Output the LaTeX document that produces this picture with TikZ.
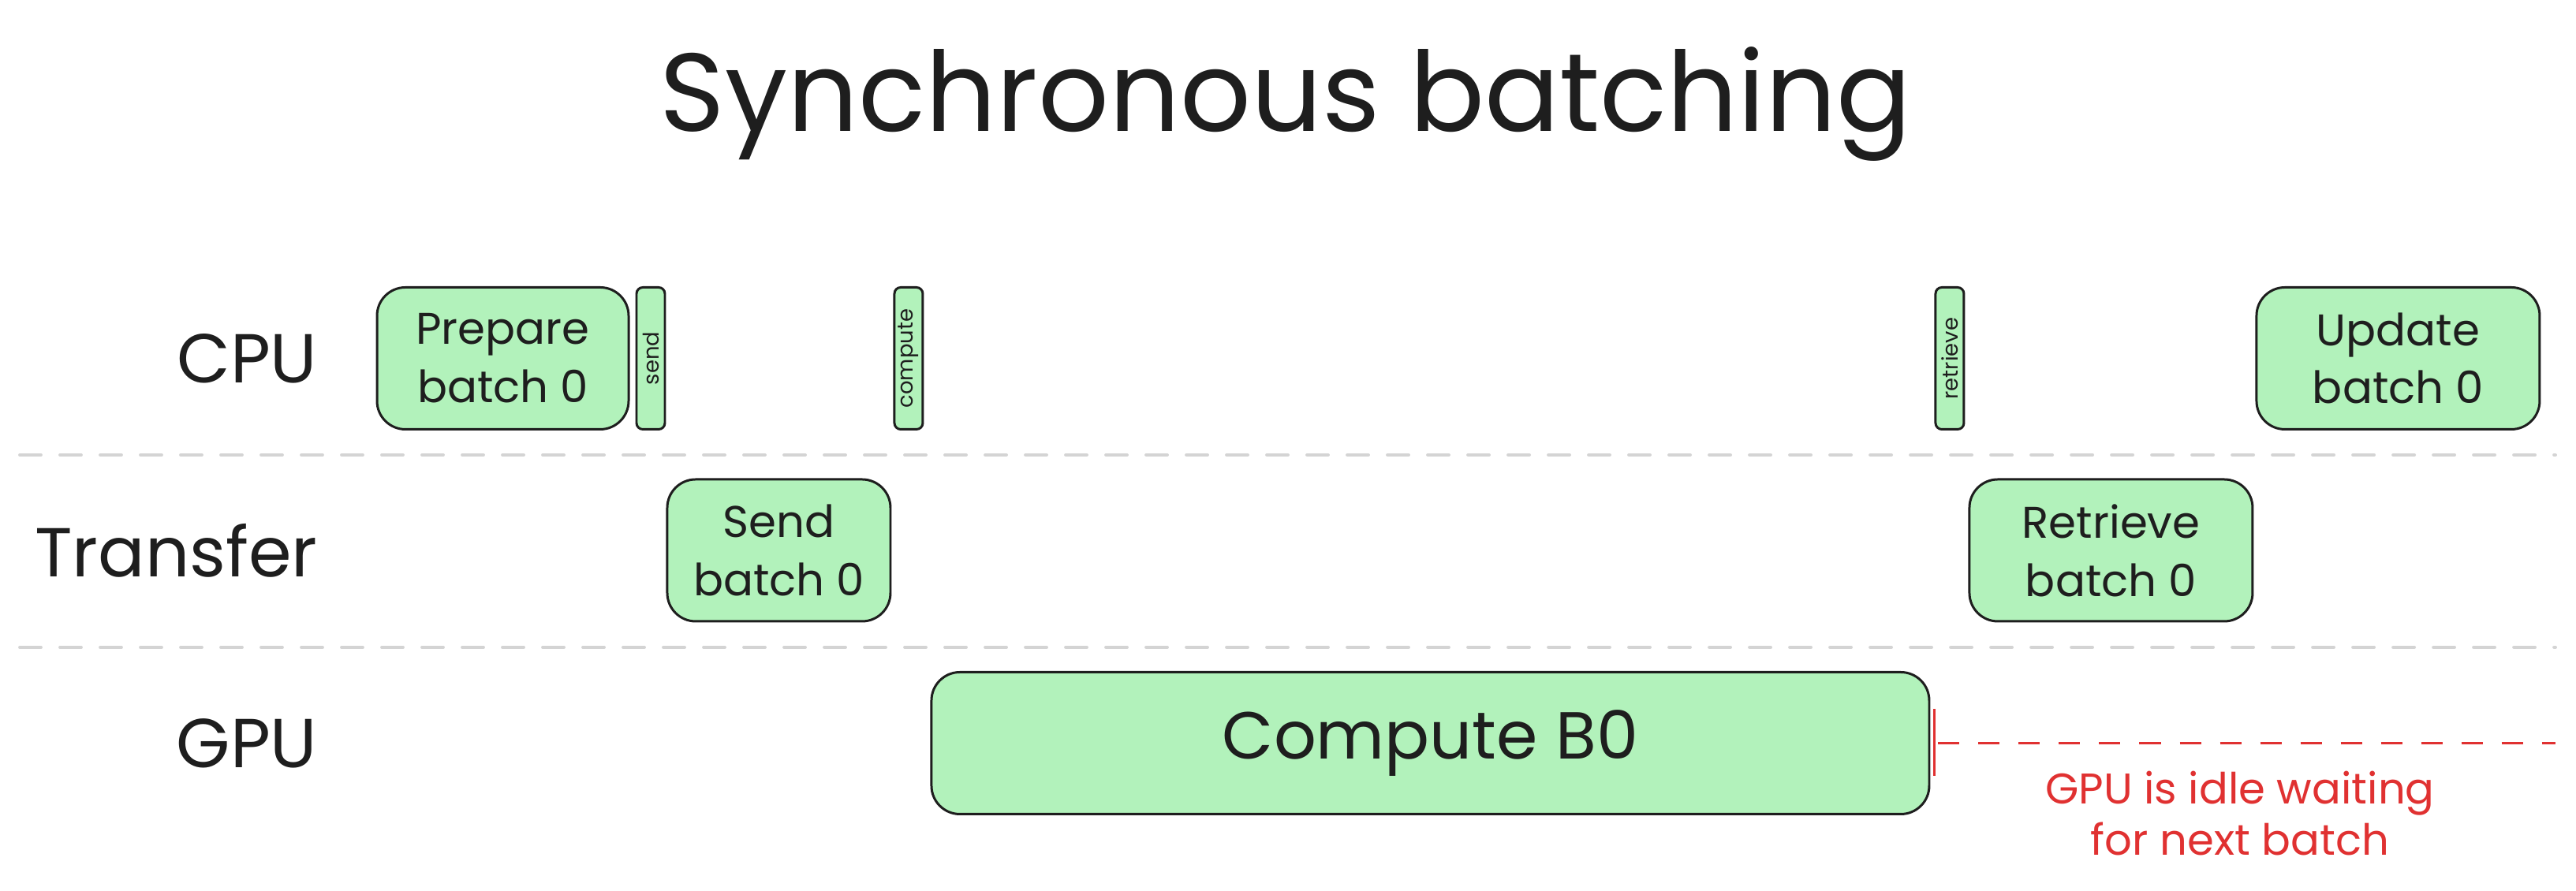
\documentclass[tikz,border=0pt]{standalone}
\usepackage{fontspec}
\setmainfont{Poppins}
\usepackage{graphicx}
\usetikzlibrary{calc,positioning}

\definecolor{taskgreen}{HTML}{B2F2BB}
\definecolor{ink}{HTML}{1E1E1E}
\definecolor{idlered}{HTML}{E03131}
\definecolor{lanegray}{HTML}{D4D4D4}

\begin{document}
\begin{tikzpicture}

\tikzset{task/.style={fill=taskgreen,draw=ink,line width=0.85pt,rounded corners=0.36cm,inner sep=0pt,minimum height=1.8cm,align=center,text=ink,font=\fontsize{16pt}{21pt}\selectfont,shape=rectangle},
tick/.style={fill=taskgreen,draw=ink,line width=0.85pt,rounded corners=0.08cm,inner sep=0pt,minimum height=1.8cm,minimum width=0.36cm,text=ink,font=\fontsize{7.8pt}{9pt}\selectfont,shape=rectangle},
lane/.style={text=ink,inner sep=0pt,font=\fontsize{25pt}{30pt}\selectfont},
heading/.style={text=ink,inner sep=0pt,font=\fontsize{40pt}{48pt}\selectfont},
note/.style={text=idlered,inner sep=0pt,align=center,font=\fontsize{15.5pt}{18.5pt}\selectfont},
divider/.style={draw=lanegray,line width=1.1pt,line cap=round,dash pattern=on 0.27cm off 0.24cm},
idle/.style={draw=idlered,line width=0.9pt,dash pattern=on 0.27cm off 0.24cm},
idlemark/.style={draw=idlered,line width=0.6pt}}

\useasboundingbox (0,0) rectangle (32.66,11.30);

% Lane rows
\coordinate (cpurow) at (0,6.755);
\coordinate (xferrow) at (0,4.32);
\coordinate (gpurow) at (0,1.875);

% Title
\node (title) [heading,anchor=base] at (16.30,9.63) {Synchronous batching};

% Lane names
\node (cpu) [lane,anchor=east] at (4.03,6.755) {CPU};
\node (xfer) [lane,anchor=east] at (4.03,4.32) {Transfer};
\node (gpu) [lane,anchor=east] at (4.03,1.875) {GPU};

% Lane dividers
\draw [divider] (0.25,5.53) -- (32.40,5.53);
\draw [divider] (0.25,3.09) -- (32.40,3.09);

% Batch 0 timeline
\node (prep) [task,minimum width=3.19cm] at (6.375,6.755) {Prepare\\batch 0};
\node (sendtick) [tick,right=0.07cm of prep] {\rotatebox{90}{send}};
\node (sendb) [task,minimum width=2.83cm,anchor=west] at (sendtick.east |- xferrow) {Send\\batch 0};
\node (comptick) [tick,anchor=west] at ($(sendb.east |- cpurow)+(0.02,0)$) {\rotatebox{90}{compute}};
\node (compb) [task,minimum width=12.65cm,anchor=west,font=\fontsize{24pt}{29pt}\selectfont] at ($(comptick.east |- gpurow)+(0.08,0)$) {Compute B0};
\node (rettick) [tick,anchor=west] at ($(compb.east |- cpurow)+(0.05,0)$) {\rotatebox{90}{retrieve}};
\node (retb) [task,minimum width=3.59cm,anchor=west] at ($(rettick.east |- xferrow)+(0.04,0)$) {Retrieve\\batch 0};
\node (upd) [task,minimum width=3.59cm,anchor=west] at ($(retb.east |- cpurow)+(0.02,0)$) {Update\\batch 0};

% GPU idle gap
\coordinate (idletop) at ($(compb.east)+(0.05,0.43)$);
\coordinate (idlebot) at ($(compb.east)+(0.05,-0.42)$);
\coordinate (idlestart) at ($(compb.east)+(0.10,0)$);
\coordinate (idleend) at (32.40,1.875);
\draw [idlemark] (idletop) -- (idlebot);
\draw [idle] (idlestart) -- (idleend);
\node (idlenote) [note] at (28.40,0.98) {GPU is idle waiting\\for next batch};

\end{tikzpicture}
\end{document}
